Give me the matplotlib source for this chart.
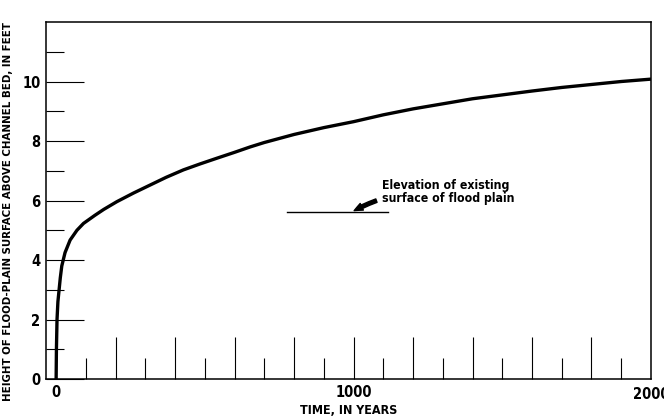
import matplotlib
matplotlib.use("Agg")
import matplotlib.pyplot as plt
from matplotlib.ticker import FixedLocator, FuncFormatter

plt.rcParams['font.family'] = ['DejaVu Sans']
plt.rcParams['font.stretch'] = 'condensed'

# growth of flood-plain height with time
years = [0, 1, 3, 6, 10, 14, 19, 30, 47, 70, 92, 130, 160, 204, 260, 316, 370,
         428, 484, 540, 600, 652, 700, 800, 900, 1000, 1100, 1200, 1300, 1400,
         1500, 1600, 1700, 1800, 1900, 2000]
height = [0, 1.0, 2.0, 2.6, 3.0, 3.4, 3.8, 4.25, 4.67, 5.0, 5.23, 5.5, 5.7,
          5.96, 6.25, 6.52, 6.78, 7.03, 7.23, 7.42, 7.62, 7.8, 7.95, 8.22, 8.45,
          8.65, 8.88, 9.08, 9.25, 9.42, 9.55, 9.68, 9.8, 9.9, 10.0, 10.08]

# present flood-plain surface
existing_x = [775, 1115]
existing_y = [5.6, 5.6]

fig = plt.figure(figsize=(6.64, 4.16), dpi=100)
ax = fig.add_axes([0.0693, 0.0889, 0.9111, 0.8582])

ax.plot(years, height, color='black', lw=2.4, solid_capstyle='butt',
        solid_joinstyle='round')
ax.plot(existing_x, existing_y, color='black', lw=1.0)

ax.annotate('Elevation of existing\nsurface of flood plain',
            xy=(1002, 5.66), xytext=(1095, 6.3),
            fontsize=8.8, fontweight='semibold', ha='left', va='center',
            linespacing=1.0,
            arrowprops=dict(arrowstyle='simple,head_length=0.7,head_width=0.6,tail_width=0.3',
                            connectionstyle='arc3,rad=0.15', color='black',
                            shrinkA=2, shrinkB=0))

ax.set_xlim(-34, 2000)
ax.set_ylim(0, 12)

ax.xaxis.set_major_locator(FixedLocator([0, 200, 400, 600, 800, 1000, 1200,
                                         1400, 1600, 1800]))
ax.xaxis.set_minor_locator(FixedLocator(list(range(100, 2000, 200))))
ax.xaxis.set_major_formatter(FuncFormatter(
    lambda v, p: '%d' % v if v in (0, 1000) else ''))
ax.yaxis.set_major_locator(FixedLocator([0, 2, 4, 6, 8, 10]))
ax.yaxis.set_minor_locator(FixedLocator([1, 3, 5, 7, 9, 11]))
ax.yaxis.set_major_formatter(FuncFormatter(lambda v, p: '%d' % v))

ax.tick_params(axis='x', which='major', direction='in', length=30, width=0.8,
               pad=4, labelsize=10.5)
ax.tick_params(axis='x', which='minor', direction='in', length=15, width=0.8)
ax.tick_params(axis='y', which='major', direction='in', length=27, width=0.8,
               pad=4, labelsize=10.5)
ax.tick_params(axis='y', which='minor', direction='in', length=13, width=0.8)
for lab in ax.get_xticklabels() + ax.get_yticklabels():
    lab.set_fontweight('semibold')

# end label of the time axis sits at the right border
ax.annotate('2000', xy=(2000, 0), xytext=(0, -5.5), textcoords='offset points',
            ha='center', va='top', fontsize=10.5, fontweight='semibold',
            annotation_clip=False)

for s in ax.spines.values():
    s.set_linewidth(1.1)

ax.set_xlabel('TIME, IN YEARS', fontsize=9, fontweight='semibold', labelpad=3)
ax.set_ylabel('HEIGHT OF FLOOD-PLAIN SURFACE ABOVE CHANNEL BED, IN FEET',
              fontsize=8.2, fontweight='semibold')
ax.yaxis.set_label_coords(-0.054, 0.47)

fig.savefig('out.png', dpi=100)
